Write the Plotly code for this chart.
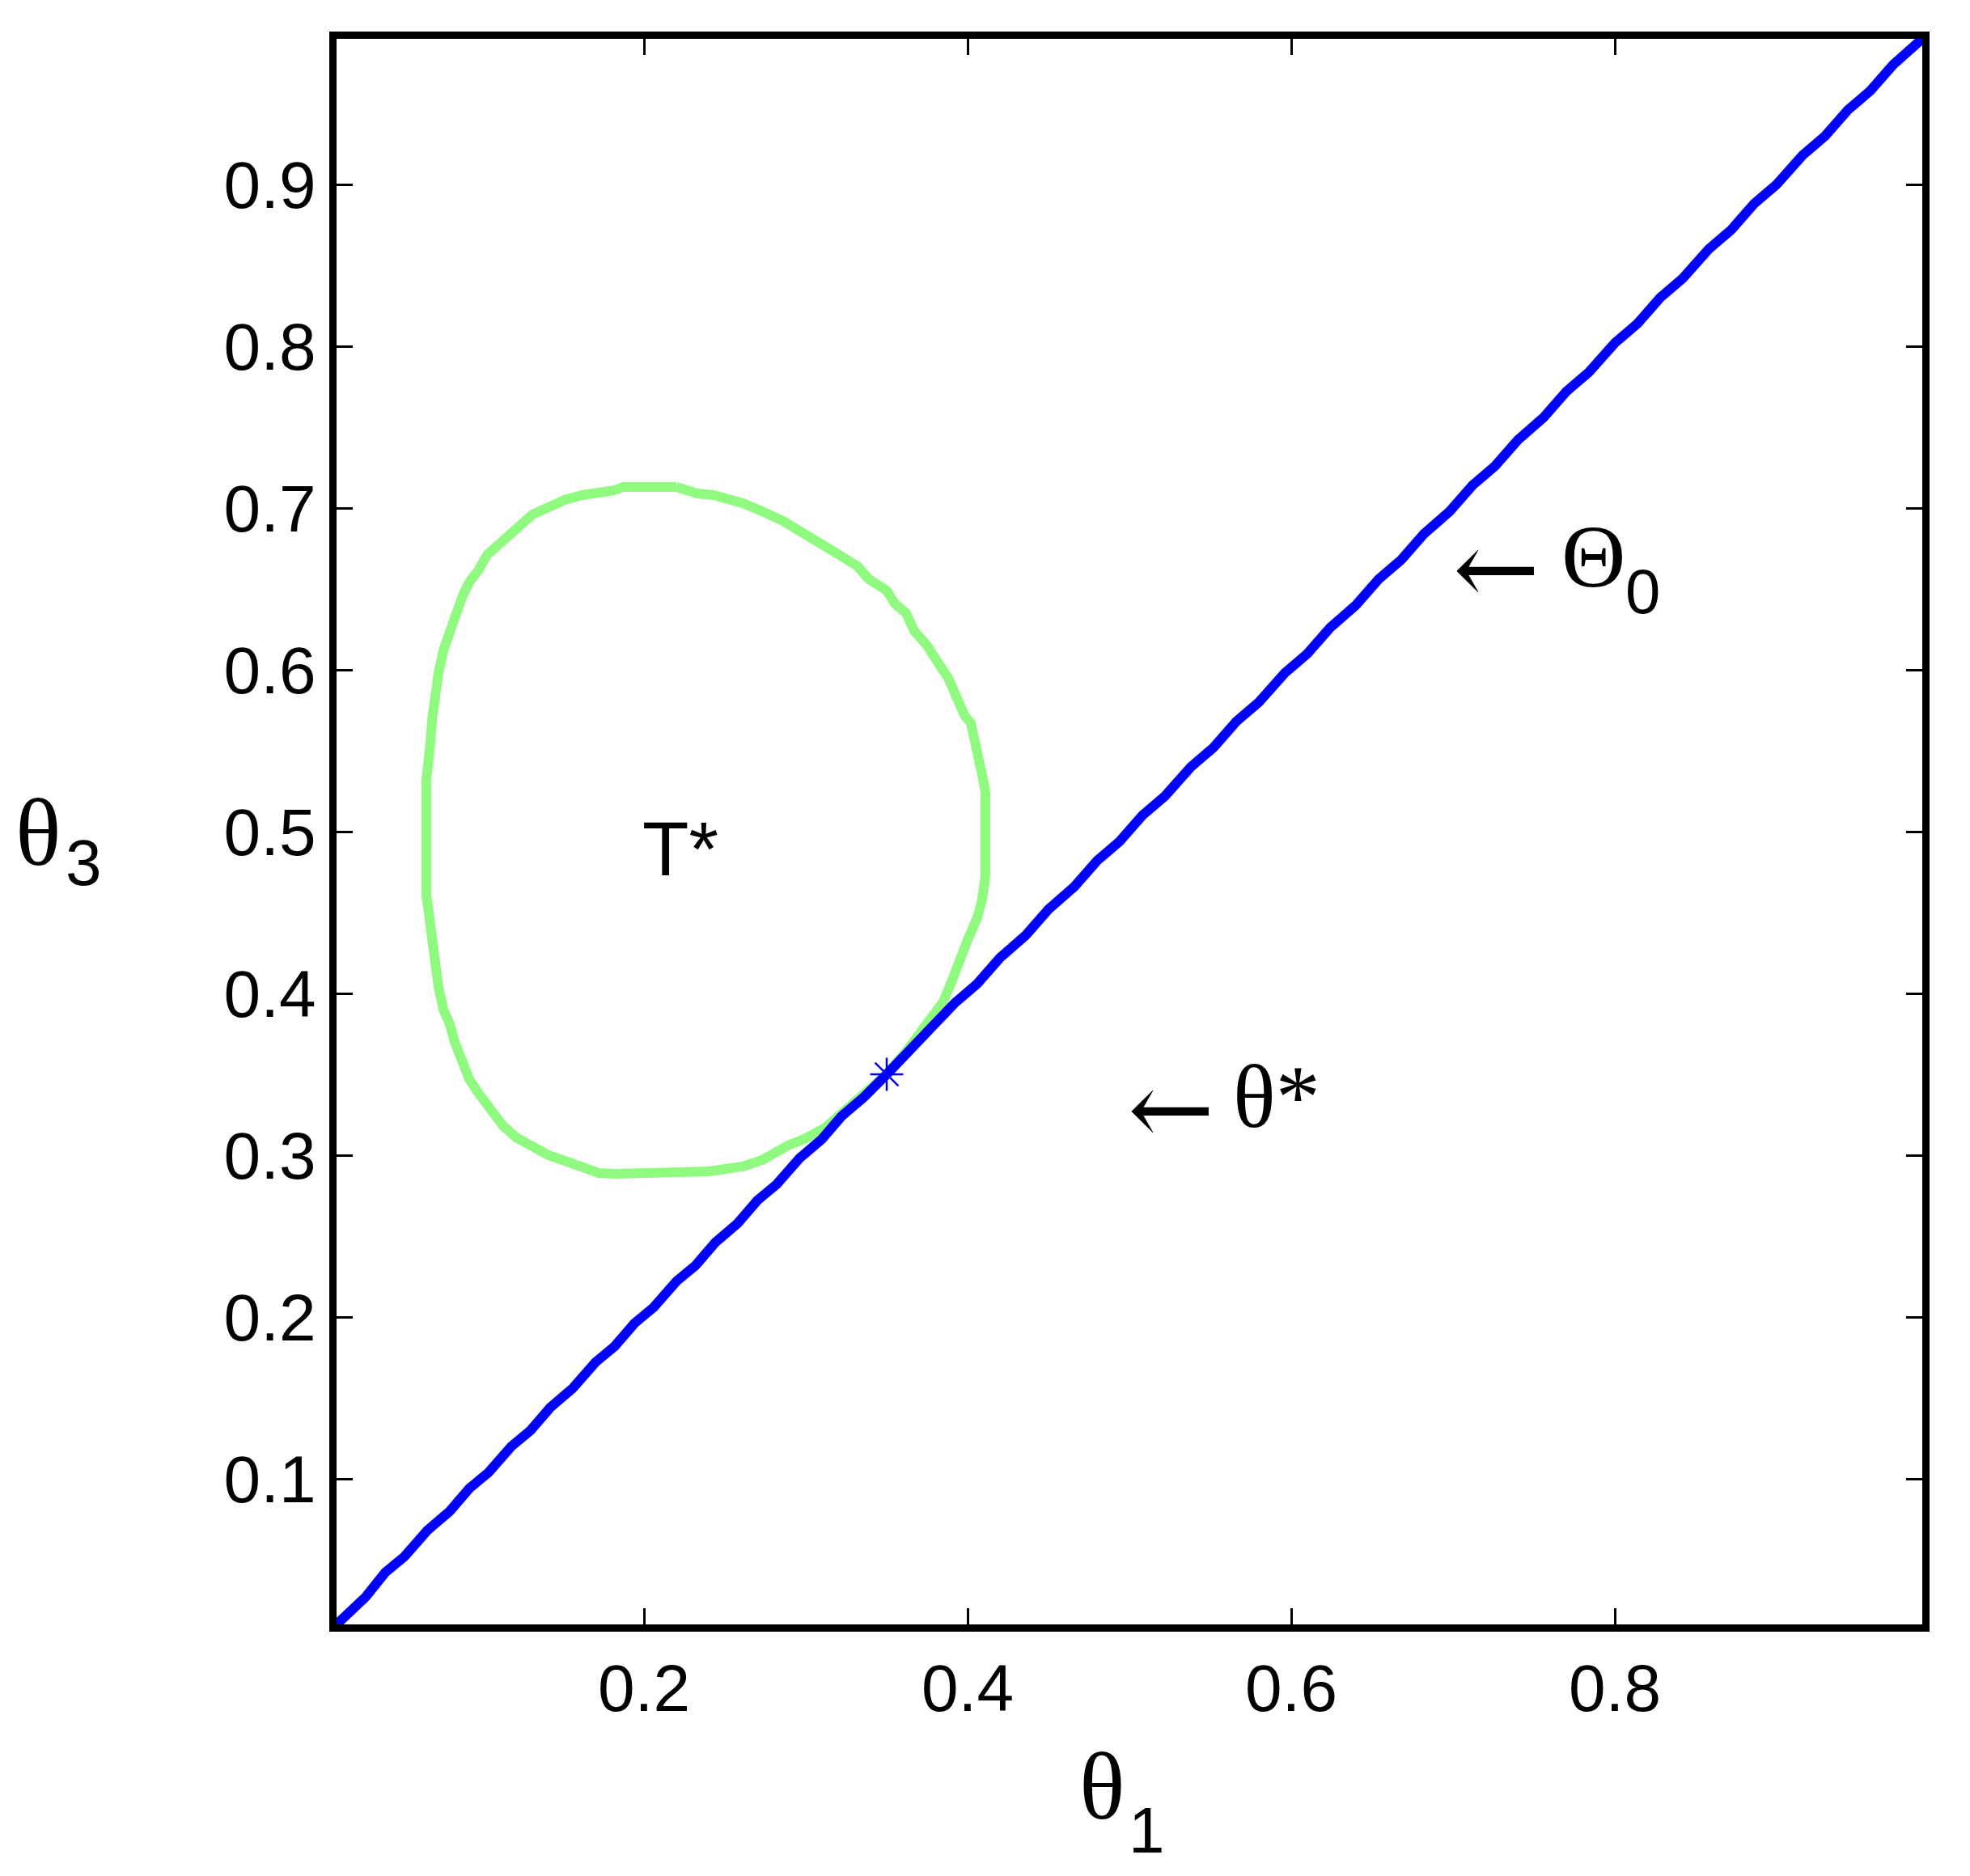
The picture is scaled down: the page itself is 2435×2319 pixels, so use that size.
import plotly.graph_objects as go

# contour T* (green)
t_x = [0.220, 0.187, 0.182, 0.167, 0.162, 0.151, 0.139, 0.131, 0.121, 0.113, 0.103, 0.098,
       0.092, 0.088, 0.084, 0.080, 0.076, 0.073, 0.070, 0.069, 0.068, 0.066, 0.0655, 0.0655,
       0.067, 0.069, 0.070, 0.073, 0.076, 0.080, 0.083, 0.087, 0.092, 0.098, 0.106, 0.113,
       0.121, 0.131, 0.141, 0.154, 0.164, 0.172, 0.182, 0.220, 0.240, 0.261, 0.273, 0.289,
       0.299, 0.312, 0.324, 0.337, 0.350, 0.362, 0.375, 0.385, 0.390, 0.395, 0.400, 0.406,
       0.409, 0.411, 0.411, 0.409, 0.406, 0.402, 0.398, 0.393, 0.388, 0.380, 0.375, 0.367,
       0.362, 0.355, 0.350, 0.339, 0.332, 0.324, 0.312, 0.299, 0.286, 0.273, 0.261, 0.243,
       0.233, 0.220]
t_y = [0.713, 0.713, 0.711, 0.709, 0.708, 0.705, 0.700, 0.696, 0.687, 0.679, 0.671, 0.662,
       0.654, 0.646, 0.635, 0.622, 0.612, 0.598, 0.581, 0.569, 0.555, 0.541, 0.532, 0.461,
       0.447, 0.433, 0.418, 0.404, 0.390, 0.381, 0.370, 0.358, 0.347, 0.338, 0.327, 0.318,
       0.311, 0.306, 0.300, 0.2955, 0.292, 0.289, 0.2885, 0.2885, 0.290, 0.293, 0.297, 0.306,
       0.310, 0.317, 0.327, 0.338, 0.350, 0.364, 0.381, 0.395, 0.407, 0.421, 0.433, 0.447,
       0.458, 0.473, 0.524, 0.535, 0.549, 0.567, 0.572, 0.584, 0.595, 0.607, 0.615, 0.624,
       0.635, 0.641, 0.649, 0.656, 0.664, 0.669, 0.676, 0.685, 0.692, 0.698, 0.703, 0.708,
       0.709, 0.713]

# Theta_0 line (blue)
theta0_x = [0.010, 0.028, 0.040, 0.052, 0.066, 0.080, 0.092, 0.104, 0.118, 0.130, 0.142, 0.156,
            0.170, 0.182, 0.194, 0.206, 0.220, 0.232, 0.244, 0.258, 0.270, 0.282, 0.296, 0.310,
            0.322, 0.336, 0.350, 0.364, 0.378, 0.392, 0.406, 0.420, 0.436, 0.450, 0.466, 0.480,
            0.494, 0.508, 0.522, 0.538, 0.552, 0.566, 0.580, 0.596, 0.610, 0.624, 0.640, 0.654,
            0.668, 0.682, 0.698, 0.712, 0.726, 0.740, 0.756, 0.770, 0.784, 0.800, 0.814, 0.828,
            0.842, 0.858, 0.872, 0.886, 0.900, 0.916, 0.930, 0.944, 0.958, 0.972, 0.990]
theta0_y = [0.010, 0.027, 0.042, 0.052, 0.068, 0.080, 0.094, 0.104, 0.120, 0.130, 0.144, 0.156,
            0.172, 0.182, 0.196, 0.206, 0.222, 0.232, 0.246, 0.258, 0.272, 0.282, 0.298, 0.310,
            0.324, 0.336, 0.350, 0.365, 0.378, 0.394, 0.406, 0.422, 0.436, 0.452, 0.466, 0.482,
            0.494, 0.510, 0.522, 0.540, 0.552, 0.568, 0.580, 0.598, 0.610, 0.626, 0.640, 0.656,
            0.668, 0.684, 0.698, 0.714, 0.726, 0.742, 0.756, 0.772, 0.784, 0.802, 0.814, 0.830,
            0.842, 0.860, 0.872, 0.888, 0.900, 0.918, 0.930, 0.946, 0.958, 0.974, 0.990]

star_x = [0.35]
star_y = [0.35]

x_ticks = [0.2, 0.4, 0.6, 0.8]
y_ticks = [0.1, 0.2, 0.3, 0.4, 0.5, 0.6, 0.7, 0.8, 0.9]

SANS = "Liberation Sans, Arial, sans-serif"
SERIF = "Liberation Serif, Times New Roman, serif"
ARROW = "DejaVu Serif, serif"

W, H = 2435, 2319
# plot area edges in figure pixels (axis lines are drawn just outside)
L, R, T, B = 408, 2368, 40, 2000
RANGE = [0.01, 0.99]
OFF = 8  # page body margin: figure pixel = page pixel - OFF


def px2x(px, paper=False):
    f = (px - OFF - L) / (R - L)
    return f if paper else RANGE[0] + f * (RANGE[1] - RANGE[0])


def px2y(py, paper=False):
    f = (B - (py - OFF)) / (B - T)
    return f if paper else RANGE[0] + f * (RANGE[1] - RANGE[0])


fig = go.Figure()
fig.add_trace(go.Scatter(x=t_x, y=t_y, mode="lines",
                         line=dict(color="rgb(144,250,128)", width=12), showlegend=False))
fig.add_trace(go.Scatter(x=theta0_x, y=theta0_y, mode="lines",
                         line=dict(color="#0000ff", width=12), showlegend=False))
fig.add_trace(go.Scatter(x=star_x, y=star_y, mode="markers",
                         marker=dict(symbol="asterisk-open", size=34, color="#0000ff",
                                     line=dict(color="#0000ff", width=2.5)),
                         showlegend=False))

axis_common = dict(
    showline=True, linecolor="black", linewidth=9, mirror="allticks",
    ticks="inside", ticklen=20, tickwidth=3, tickcolor="black",
    showgrid=False, zeroline=False, range=RANGE,
    tickfont=dict(family=SANS, size=82, color="black"),
)
fig.update_xaxes(tickvals=x_ticks, ticktext=[f"{v:.1f}" for v in x_ticks], **axis_common)
fig.update_yaxes(tickvals=y_ticks, ticktext=[f"{v:.1f}" for v in y_ticks], **axis_common)


def label(text, px, py, family, size, paper=False):
    ref = "paper" if paper else None
    return dict(x=px2x(px, paper), y=px2y(py, paper),
                xref=ref or "x", yref=ref or "y", text=text,
                xanchor="center", yanchor="middle", showarrow=False,
                font=dict(family=family, size=size, color="black"))


annotations = [
    label("T*", 841, 1049, SANS, 94),
    # Theta_0 marker text
    label("←", 1849, 702, ARROW, 128),
    label("Θ", 1969, 688, SERIF, 110),
    label("0", 2030, 731, SANS, 78),
    # theta* marker text
    label("←", 1447, 1370, ARROW, 128),
    label("θ*", 1578, 1356, SERIF, 110),
    # axis titles
    label("θ", 47, 1029, SERIF, 118, paper=True),
    label("3", 103, 1066, SANS, 80, paper=True),
    label("θ", 1362, 2208, SERIF, 118, paper=True),
    label("1", 1417, 2262, SANS, 80, paper=True),
]

fig.update_layout(
    width=W, height=H,
    margin=dict(l=L, r=W - R, t=T, b=H - B),
    plot_bgcolor="white", paper_bgcolor="white",
    annotations=annotations,
)

fig.write_html("out.html")
